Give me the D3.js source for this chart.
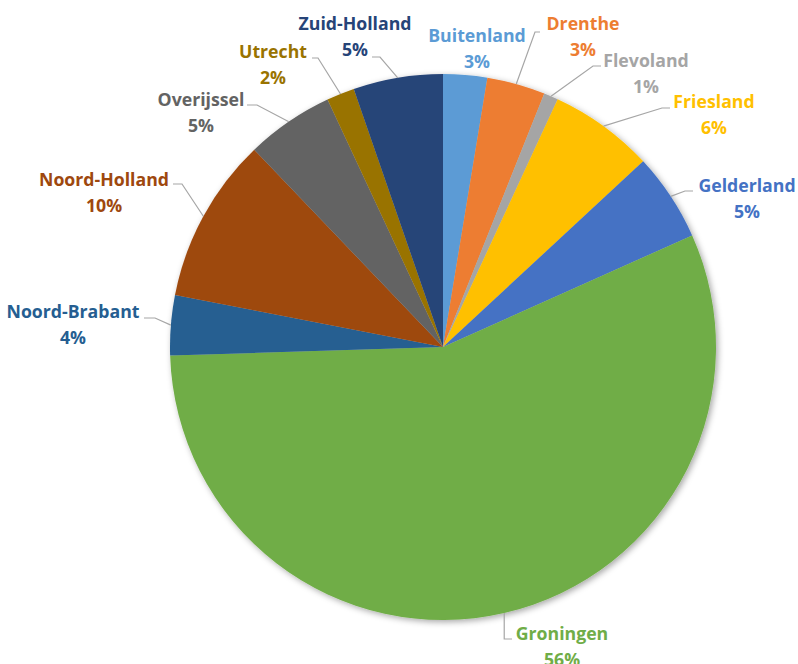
<!DOCTYPE html>
<html>
<head>
<meta charset="utf-8">
<script src="https://cdn.jsdelivr.net/npm/d3@7"></script>
<style>
  html, body { margin: 0; padding: 0; background: #ffffff; }
  svg { display: block; }
  .lbl { font-family: "Open Sans", Lato, sans-serif; font-weight: 700; font-size: 17.7px; }
</style>
</head>
<body>
<svg id="chart" width="798" height="664"></svg>
<script>
// Share of each region (percent), clockwise from 12 o'clock
const regions = ["Buitenland", "Drenthe", "Flevoland", "Friesland", "Gelderland", "Groningen",
                 "Noord-Brabant", "Noord-Holland", "Overijssel", "Utrecht", "Zuid-Holland"];
const shares  = [2.6, 3.45, 0.85, 6.2, 5.2, 56.2, 3.55, 9.8, 5.2, 1.65, 5.3];
const colors  = ["#5B9BD5", "#ED7D31", "#A5A5A5", "#FFC000", "#4472C4", "#70AD47",
                 "#255E91", "#9E480E", "#636363", "#997300", "#264478"];

// Label placement: text centre x, first baseline y, leader attach point and elbow
const labelLayout = {
  "Buitenland":    { tx: 477, ty: 42 },
  "Drenthe":       { tx: 583, ty: 30,  ax: 540, ay: 32,  ex: 535 },
  "Flevoland":     { tx: 646, ty: 67,  ax: 601, ay: 66,  ex: 593 },
  "Friesland":     { tx: 714, ty: 108, ax: 670, ay: 108, ex: 662 },
  "Gelderland":    { tx: 747, ty: 192, ax: 693, ay: 191, ex: 685 },
  "Groningen":     { tx: 562, ty: 640, ax: 512, ay: 639, vertical: true },
  "Noord-Brabant": { tx: 73,  ty: 318, ax: 144, ay: 318, ex: 155 },
  "Noord-Holland": { tx: 104, ty: 186, ax: 173, ay: 184, ex: 182 },
  "Overijssel":    { tx: 201, ty: 106, ax: 247, ay: 105, ex: 257 },
  "Utrecht":       { tx: 273, ty: 58,  ax: 312, ay: 58,  ex: 318 },
  "Zuid-Holland":  { tx: 355, ty: 30,  ax: 372, ay: 57,  ex: 380 }
};

const cx = 443, cy = 347, radius = 273, lineGap = 25.5;

const data = regions.map((name, i) => ({ name, value: shares[i], color: colors[i] }));
const total = d3.sum(shares);
const pct = d3.format(".0%");

const svg = d3.select("#chart");

const defs = svg.append("defs");
const shadow = defs.append("filter").attr("id", "pieShadow")
  .attr("x", "-10%").attr("y", "-10%").attr("width", "120%").attr("height", "120%");
shadow.append("feDropShadow")
  .attr("dx", 2).attr("dy", 2).attr("stdDeviation", 3)
  .attr("flood-color", "#000").attr("flood-opacity", 0.35);

const pie = d3.pie().value(d => d.value).sort(null);
const arc = d3.arc().innerRadius(0).outerRadius(radius);
const arcs = pie(data);

const g = svg.append("g").attr("transform", `translate(${cx},${cy})`);
g.append("g").attr("filter", "url(#pieShadow)")
  .selectAll("path")
  .data(arcs)
  .join("path")
  .attr("d", arc)
  .attr("fill", d => d.data.color);

// Leader lines from slice rim to label
const rimPoint = d => {
  const a = (d.startAngle + d.endAngle) / 2;
  return [cx + radius * Math.sin(a), cy - radius * Math.cos(a)];
};

const leaders = svg.append("g");
arcs.forEach(d => {
  const L = labelLayout[d.data.name];
  if (L.ax === undefined) return;
  const [px, py] = rimPoint(d);
  const pts = L.vertical
    ? [[px, py], [px, L.ay], [L.ax, L.ay]]
    : [[px, py], [L.ex, L.ay], [L.ax, L.ay]];
  leaders.append("path")
    .attr("d", d3.line()(pts))
    .attr("fill", "none")
    .attr("stroke", "#A6A6A6")
    .attr("stroke-width", 1.2);
});

// Labels: region name and percentage
const labels = svg.append("g");
arcs.forEach(d => {
  const L = labelLayout[d.data.name];
  const t = labels.append("text")
    .attr("class", "lbl")
    .attr("text-anchor", "middle")
    .attr("fill", d.data.color);
  t.append("tspan").attr("x", L.tx).attr("y", L.ty).text(d.data.name);
  t.append("tspan").attr("x", L.tx).attr("y", L.ty + lineGap).text(pct(d.data.value / total));
});
</script>
</body>
</html>
